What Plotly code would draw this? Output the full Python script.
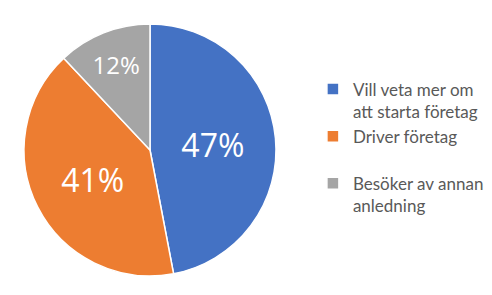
import plotly.graph_objects as go

labels = ["Vill veta mer om<br>att starta företag", "Driver företag<br> ", "Besöker av annan<br>anledning"]
values = [47, 41, 12]
colors = ["#4472C4", "#ED7D31", "#A5A5A5"]
label_sizes = [32, 32, 24]

W, H = 492, 295
cx, cy, r = 150, 150, 126

fig = go.Figure(go.Pie(
    labels=labels,
    values=values,
    sort=False,
    direction="clockwise",
    rotation=0,
    marker=dict(colors=colors, line=dict(color="white", width=1.5)),
    textinfo="percent",
    textposition="inside",
    insidetextorientation="horizontal",
    textfont=dict(family="Open Sans", color="white", size=label_sizes),
    domain=dict(x=[(cx - r) / W, (cx + r) / W], y=[(H - cy - r) / H, (H - cy + r) / H]),
    hoverinfo="skip",
))

fig.update_layout(
    width=W, height=H,
    margin=dict(l=0, r=0, t=0, b=0),
    paper_bgcolor="white",
    plot_bgcolor="white",
    showlegend=True,
    legend=dict(
        x=0.636, y=0.758, xanchor="left", yanchor="top",
        font=dict(family="Lato", size=17, color="#595959"),
        valign="top",
        itemwidth=30,
        tracegroupgap=0,
    ),
)

fig.write_html("out.html")
